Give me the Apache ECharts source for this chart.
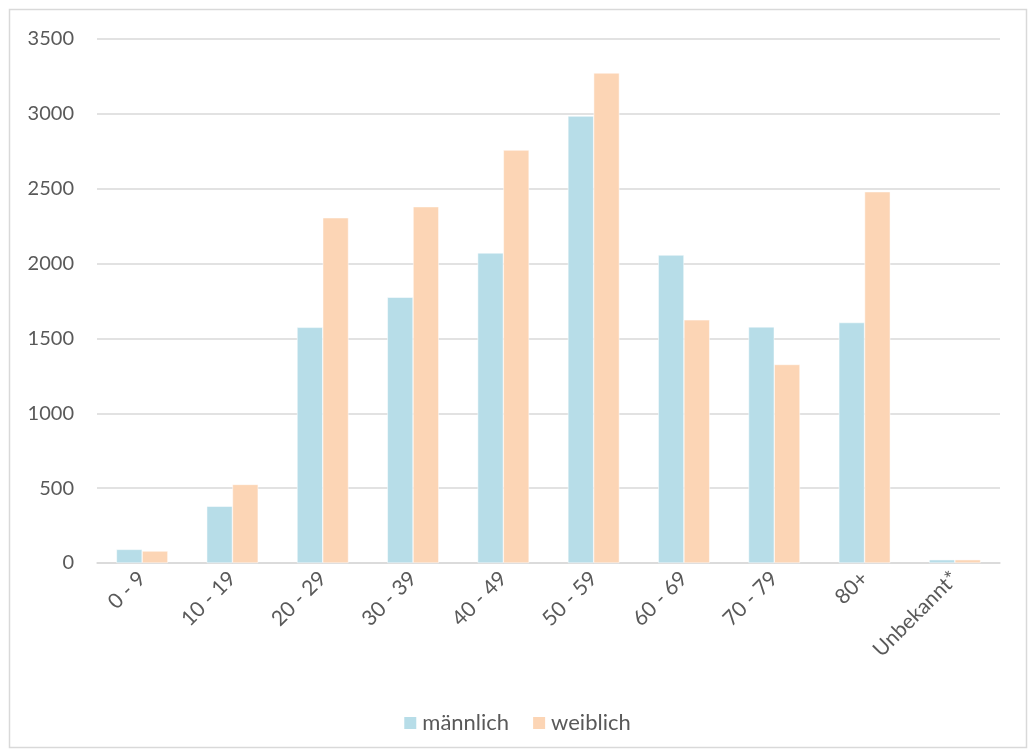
<!DOCTYPE html>
<html>
<head>
<meta charset="utf-8">
<script src="https://cdn.jsdelivr.net/npm/echarts@6/dist/echarts.min.js"></script>
<style>
  html, body { margin: 0; padding: 0; background: #fff; }
  #chart { width: 1033px; height: 756px; }
</style>
</head>
<body>
<div id="chart"></div>
<script>
// Altersgruppen
const categories = ['0 - 9', '10 - 19', '20 - 29', '30 - 39', '40 - 49', '50 - 59', '60 - 69', '70 - 79', '80+', 'Unbekannt*'];
// Fälle je Geschlecht
const maleValues   = [91, 379, 1574, 1775, 2071, 2985, 2057, 1577, 1606, 22];
const femaleValues = [80, 525, 2306, 2380, 2758, 3273, 1624, 1326, 2480, 22];
const seriesNames = ['männlich', 'weiblich'];
const yTicks = { min: 0, max: 3500, interval: 500 };

const fontFamily = 'Lato, "Open Sans", "Liberation Sans", sans-serif';
const textColor = '#595959';
const gridColor = '#d9d9d9';

const chart = echarts.init(document.getElementById('chart'), null, { renderer: 'canvas' });
chart.setOption({
  backgroundColor: '#fff',
  animation: false,
  textStyle: { fontFamily: fontFamily },
  graphic: [{
    type: 'rect',
    shape: { x: 9.5, y: 9.5, width: 1017, height: 738 },
    style: { fill: 'none', stroke: gridColor, lineWidth: 1.5 },
    silent: true
  }],
  grid: { left: 97, right: 33, top: 39, bottom: 193, containLabel: false },
  legend: {
    bottom: 17,
    left: 'center',
    itemWidth: 14,
    itemHeight: 14,
    itemGap: 22,
    icon: 'rect',
    textStyle: { color: textColor, fontSize: 22, fontFamily: fontFamily },
    data: seriesNames
  },
  xAxis: {
    type: 'category',
    data: categories,
    axisLine: { show: true, lineStyle: { color: gridColor, width: 1.5 } },
    axisTick: { show: false },
    axisLabel: { color: textColor, fontSize: 21, rotate: 45, margin: 12, interval: 0 }
  },
  yAxis: {
    type: 'value',
    min: yTicks.min,
    max: yTicks.max,
    interval: yTicks.interval,
    axisLine: { show: false },
    axisTick: { show: false },
    axisLabel: { color: textColor, fontSize: 20, margin: 23, formatter: v => String(v) },
    splitLine: { lineStyle: { color: gridColor, width: 1.5 } }
  },
  series: [
    {
      name: seriesNames[0],
      type: 'bar',
      data: maleValues,
      barGap: '0%',
      barCategoryGap: '43%',
      itemStyle: { color: '#b7dde8', borderColor: '#ffffff', borderWidth: 0.5 }
    },
    {
      name: seriesNames[1],
      type: 'bar',
      data: femaleValues,
      barGap: '0%',
      barCategoryGap: '43%',
      itemStyle: { color: '#fcd5b5', borderColor: '#ffffff', borderWidth: 0.5 }
    }
  ]
});
</script>
</body>
</html>
